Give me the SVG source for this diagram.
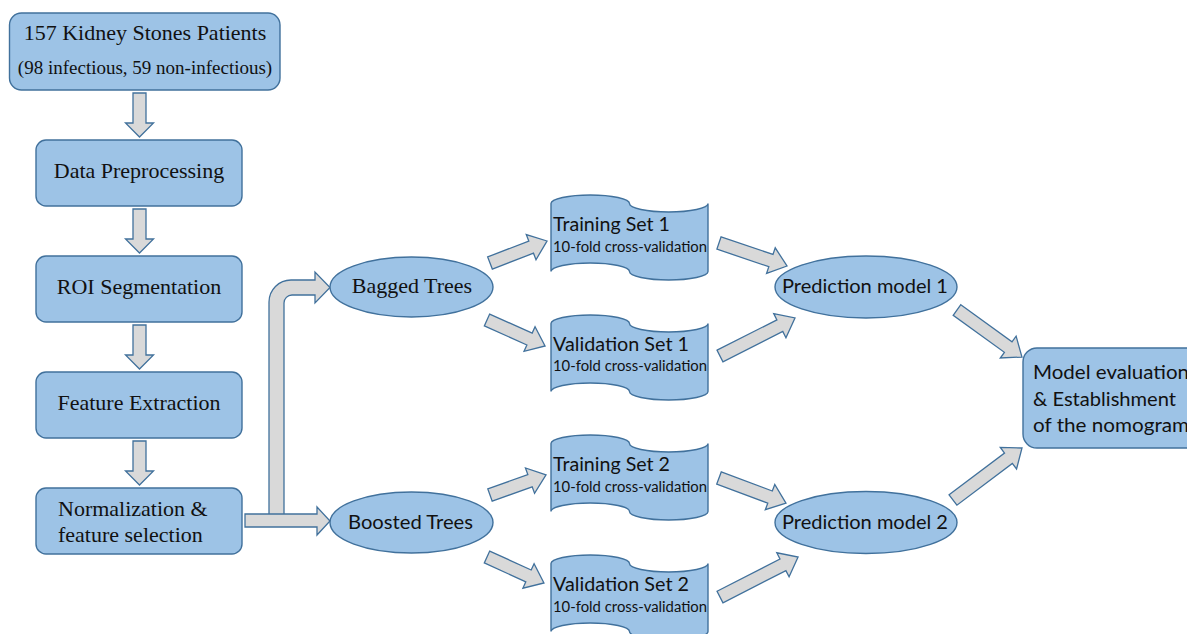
<svg xmlns="http://www.w3.org/2000/svg" width="1187" height="634" viewBox="0 0 1187 634">
<style>
.node{fill:#9DC3E6;stroke:#41719C;stroke-width:1.4}
.arr{fill:#D9D9D9;stroke:#41719C;stroke-width:1.3;stroke-linejoin:miter}
.serif{font-family:"Liberation Serif","Times New Roman",serif;font-size:22px;fill:#111}
.sans{font-family:Lato,"Open Sans",sans-serif;font-size:19.5px;fill:#111}
.small{font-family:Lato,"Open Sans",sans-serif;font-size:14.5px;fill:#111}
</style>
<defs>
<path id="tape" d="M0,8.5 A39.25,8.5 0 0 1 78.5,8.5 A39.25,8.5 0 0 0 157,8.5 L157,76.5 A39.25,8.5 0 0 1 78.5,76.5 A39.25,8.5 0 0 0 0,76.5 Z"/>
</defs>
<rect width="1187" height="634" fill="#fff"/>
<g id="connectors">
<polygon class="arr" points="133,93 146,93 146,123 153.5,123 139.5,137 125.5,123 133,123"/>
<polygon class="arr" points="133,209 146,209 146,239 153.5,239 139.5,253 125.5,239 133,239"/>
<polygon class="arr" points="133,325 146,325 146,355 153.5,355 139.5,369 125.5,355 133,355"/>
<polygon class="arr" points="133,441 146,441 146,471 153.5,471 139.5,485 125.5,471 133,471"/>
<path class="arr" d="M269,515 L269,302 A22,22 0 0 1 291,280 L315,280 L315,272 L330,287.5 L315,303 L315,295 L292,295 A8,8 0 0 0 284,303 L284,515 Z"/>
<polygon class="arr" points="245,514 317,514 317,507 330,521 317,535 317,527 245,527"/>
<polygon class="arr" transform="translate(490,263) rotate(-21.1)" points="0,-6.5 44.1,-6.5 44.1,-13.5 61.1,0 44.1,13.5 44.1,6.5 0,6.5"/>
<polygon class="arr" transform="translate(487,320) rotate(24.1)" points="0,-6.5 46.6,-6.5 46.6,-13.5 63.6,0 46.6,13.5 46.6,6.5 0,6.5"/>
<polygon class="arr" transform="translate(719,243) rotate(18.7)" points="0,-6.5 54.8,-6.5 54.8,-13.5 71.8,0 54.8,13.5 54.8,6.5 0,6.5"/>
<polygon class="arr" transform="translate(720,356) rotate(-26.9)" points="0,-6.5 67.1,-6.5 67.1,-13.5 84.1,0 67.1,13.5 67.1,6.5 0,6.5"/>
<polygon class="arr" transform="translate(957,310) rotate(35.9)" points="0,-6.5 63.2,-6.5 63.2,-13.5 80.2,0 63.2,13.5 63.2,6.5 0,6.5"/>
<polygon class="arr" transform="translate(953,500) rotate(-37)" points="0,-6.5 69.4,-6.5 69.4,-13.5 86.4,0 69.4,13.5 69.4,6.5 0,6.5"/>
<polygon class="arr" transform="translate(490,495) rotate(-19.7)" points="0,-6.5 42.5,-6.5 42.5,-13.5 59.5,0 42.5,13.5 42.5,6.5 0,6.5"/>
<polygon class="arr" transform="translate(487,557) rotate(24.5)" points="0,-6.5 45.6,-6.5 45.6,-13.5 62.6,0 45.6,13.5 45.6,6.5 0,6.5"/>
<polygon class="arr" transform="translate(719,478) rotate(20.5)" points="0,-6.5 54.5,-6.5 54.5,-13.5 71.5,0 54.5,13.5 54.5,6.5 0,6.5"/>
<polygon class="arr" transform="translate(720,597) rotate(-27.1)" points="0,-6.5 70.7,-6.5 70.7,-13.5 87.7,0 70.7,13.5 70.7,6.5 0,6.5"/>
</g>
<g id="patients">
<rect class="node" x="9.5" y="13" width="270.5" height="77" rx="12"/>
<text class="serif" x="145" y="40" text-anchor="middle">157 Kidney Stones Patients</text>
<text class="serif" x="145" y="74" text-anchor="middle" style="font-size:19px">(98 infectious, 59 non-infectious)</text>
</g>
<g id="preprocessing">
<rect class="node" x="36" y="140" width="206" height="66" rx="10"/>
<text class="serif" x="139" y="177.5" text-anchor="middle">Data Preprocessing</text>
</g>
<g id="roi">
<rect class="node" x="36" y="256" width="206" height="66" rx="10"/>
<text class="serif" x="139" y="293.5" text-anchor="middle">ROI Segmentation</text>
</g>
<g id="feature-extraction">
<rect class="node" x="36" y="372" width="206" height="66" rx="10"/>
<text class="serif" x="139" y="409.5" text-anchor="middle">Feature Extraction</text>
</g>
<g id="normalization">
<rect class="node" x="36" y="488" width="206" height="66" rx="10"/>
<text class="serif" x="58" y="515.5">Normalization &amp;</text>
<text class="serif" x="58" y="542">feature selection</text>
</g>
<g id="bagged">
<ellipse class="node" cx="411.5" cy="287" rx="81.5" ry="30"/>
<text class="serif" x="412" y="293" text-anchor="middle">Bagged Trees</text>
</g>
<g id="boosted">
<ellipse class="node" cx="411.5" cy="522.5" rx="81.5" ry="30.5"/>
<text class="sans" x="410.5" y="528.5" text-anchor="middle" textLength="125" lengthAdjust="spacingAndGlyphs">Boosted Trees</text>
</g>
<g id="training1">
<use href="#tape" class="node" x="551" y="195"/>
<text class="sans" x="553" y="231" textLength="117" lengthAdjust="spacingAndGlyphs">Training Set 1</text>
<text class="small" x="553" y="251.5" textLength="154" lengthAdjust="spacingAndGlyphs">10-fold cross-validation</text>
</g>
<g id="validation1">
<use href="#tape" class="node" x="551" y="315"/>
<text class="sans" x="553" y="351" textLength="136" lengthAdjust="spacingAndGlyphs">Validation Set 1</text>
<text class="small" x="553" y="371" textLength="154" lengthAdjust="spacingAndGlyphs">10-fold cross-validation</text>
</g>
<g id="training2">
<use href="#tape" class="node" x="551" y="435"/>
<text class="sans" x="553" y="471" textLength="117" lengthAdjust="spacingAndGlyphs">Training Set 2</text>
<text class="small" x="553" y="491.5" textLength="154" lengthAdjust="spacingAndGlyphs">10-fold cross-validation</text>
</g>
<g id="validation2">
<use href="#tape" class="node" x="551" y="555"/>
<text class="sans" x="553" y="591" textLength="136" lengthAdjust="spacingAndGlyphs">Validation Set 2</text>
<text class="small" x="553" y="611.5" textLength="154" lengthAdjust="spacingAndGlyphs">10-fold cross-validation</text>
</g>
<g id="prediction1">
<ellipse class="node" cx="866" cy="287" rx="91" ry="31"/>
<text class="sans" x="865" y="293" text-anchor="middle" textLength="166" lengthAdjust="spacingAndGlyphs">Prediction model 1</text>
</g>
<g id="prediction2">
<ellipse class="node" cx="866" cy="522.5" rx="91" ry="31"/>
<text class="sans" x="865" y="528.5" text-anchor="middle" textLength="166" lengthAdjust="spacingAndGlyphs">Prediction model 2</text>
</g>
<g id="evaluation">
<rect class="node" x="1023" y="348" width="180" height="100" rx="14"/>
<text class="sans" x="1033" y="379" textLength="156" lengthAdjust="spacingAndGlyphs">Model evaluation</text>
<text class="sans" x="1033" y="405.5" textLength="143" lengthAdjust="spacingAndGlyphs">&amp; Establishment</text>
<text class="sans" x="1033" y="432" textLength="156" lengthAdjust="spacingAndGlyphs">of the nomogram</text>
</g>
</svg>
